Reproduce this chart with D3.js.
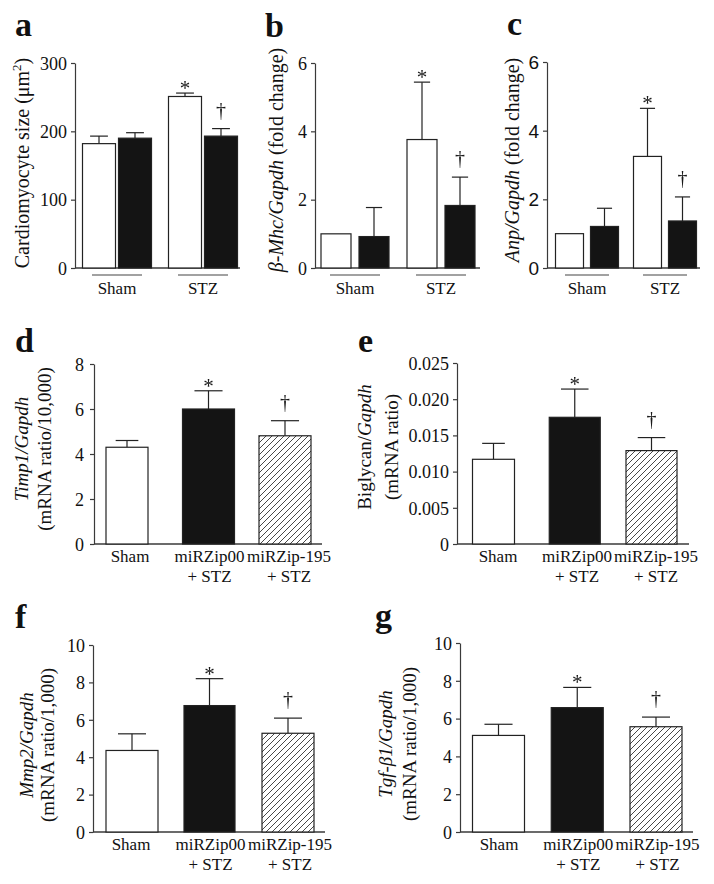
<!DOCTYPE html>
<html><head><meta charset="utf-8">
<script src="https://cdn.jsdelivr.net/npm/d3@7"></script>
<style>body{margin:0;background:#fff}svg{display:block}</style>
</head><body>
<svg id="chart" width="714" height="884"></svg>
<script>
// ---------- DATA ----------
const topGroups = ["Sham", "STZ"];
const topSeries = ["control", "treated"];

const aValues = [182, 190, 251, 193];
const aSEM    = [11, 8, 5, 11];
const aMarks  = ["", "", "*", "†"];
const aTicks  = [0, 100, 200, 300];
const aTickLabels = ["0", "100", "200", "300"];

const bValues = [1.0, 0.92, 3.76, 1.83];
const bSEM    = [0, 0.85, 1.68, 0.83];
const bMarks  = ["", "", "*", "†"];
const bTicks  = [0, 2, 4, 6];
const bTickLabels = ["0", "2", "4", "6"];

const cValues = [1.0, 1.21, 3.25, 1.37];
const cSEM    = [0, 0.53, 1.40, 0.70];
const cMarks  = ["", "", "*", "†"];
const cTicks  = [0, 2, 4, 6];
const cTickLabels = ["0", "2", "4", "6"];

const lowCategories = [["Sham"], ["miRZip00", "+ STZ"], ["miRZip-195", "+ STZ"]];
const lowMarks = ["", "*", "†"];

const dValues = [4.3, 6.0, 4.81];
const dSEM    = [0.3, 0.81, 0.67];
const dTicks  = [0, 2, 4, 6, 8];
const dTickLabels = ["0", "2", "4", "6", "8"];

const eValues = [0.0117, 0.0175, 0.0129];
const eSEM    = [0.0022, 0.0039, 0.0018];
const eTicks  = [0, 0.005, 0.010, 0.015, 0.020, 0.025];
const eTickLabels = ["0", "0.005", "0.010", "0.015", "0.020", "0.025"];

const fValues = [4.36, 6.76, 5.28];
const fSEM    = [0.89, 1.44, 0.81];
const fTicks  = [0, 2, 4, 6, 8, 10];
const fTickLabels = ["0", "2", "4", "6", "8", "10"];

const gValues = [5.11, 6.58, 5.57];
const gSEM    = [0.59, 1.07, 0.51];
const gTicks  = [0, 2, 4, 6, 8, 10];
const gTickLabels = ["0", "2", "4", "6", "8", "10"];

// ---------- STYLE ----------
const SERIF = "'Liberation Serif', 'Times New Roman', serif";
const SANS = "'Liberation Sans', Arial, sans-serif";
const INK = "#222";
const AXIS = "#3a3a3a";

const svg = d3.select("#chart");
const defs = svg.append("defs");
const pat = defs.append("pattern").attr("id", "hatch").attr("patternUnits", "userSpaceOnUse")
  .attr("width", 6).attr("height", 6);
pat.append("rect").attr("width", 6).attr("height", 6).attr("fill", "#fff");
pat.append("path").attr("d", "M-1,1 l2,-2 M0,6 l6,-6 M5,7 l2,-2")
  .attr("stroke", "#333").attr("stroke-width", 0.9);
const flt = defs.append("filter").attr("id", "gray").attr("x", "-50%").attr("y", "-50%")
  .attr("width", "200%").attr("height", "200%");
flt.append("feOffset").attr("dx", 0).attr("dy", 0);

const fills = { white: "#fff", black: "#141414", hatch: "url(#hatch)" };

function panelLetter(txt, x, y) {
  svg.append("text").attr("x", x).attr("y", y).text(txt)
    .attr("font-family", SERIF).attr("font-weight", "bold").attr("font-size", 34).attr("fill", "#111");
}

function yAxis(cfg) {
  const y = d3.scaleLinear().domain([0, cfg.yMax]).range([cfg.yBottom, cfg.yTop]);
  const ax = d3.axisLeft(y).tickValues(cfg.ticks)
    .tickFormat((d, i) => cfg.tickLabels[i]).tickSize(4).tickSizeOuter(0).tickPadding(cfg.tickPad || 4);
  const g = svg.append("g").attr("transform", `translate(${cfg.axisX},0)`).call(ax);
  g.select(".domain").attr("stroke", AXIS).attr("stroke-width", 1.2);
  g.selectAll(".tick line").attr("stroke", AXIS).attr("stroke-width", 1.2);
  g.selectAll(".tick text").attr("font-family", cfg.tickFont || SERIF).attr("font-size", cfg.tickSize || 18)
    .attr("fill", "#111").attr("dy", "0.35em");
  svg.append("line").attr("x1", cfg.axisX).attr("x2", cfg.xEnd)
    .attr("y1", cfg.yBottom).attr("y2", cfg.yBottom).attr("stroke", AXIS).attr("stroke-width", 1.3);
  return y;
}

function drawBar(y, x0, w, v, sem, fill, mark) {
  const mid = x0 + w / 2;
  if (sem > 0) {
    const top = y(v + sem);
    svg.append("line").attr("x1", mid).attr("x2", mid).attr("y1", y(v)).attr("y2", top)
      .attr("stroke", INK).attr("stroke-width", 1.2);
    svg.append("line").attr("x1", mid - w * 0.27).attr("x2", mid + w * 0.27).attr("y1", top).attr("y2", top)
      .attr("stroke", INK).attr("stroke-width", 1.2);
  }
  svg.append("rect").attr("x", x0).attr("y", y(v)).attr("width", w).attr("height", y(0) - y(v))
    .attr("fill", fills[fill]).attr("stroke", INK).attr("stroke-width", 1.2);
  if (mark) {
    const capY = y(v + sem);
    const ty = mark === "*" ? capY + 2 : capY - 12;
    svg.append("g").attr("filter", "url(#gray)")
      .append("text").attr("x", mid).attr("y", ty)
      .attr("text-anchor", "middle").attr("font-family", SERIF).attr("font-size", mark === "*" ? 21 : 20)
      .attr("fill", "#1a1a1a").text(mark);
  }
}

function yLabel(x, cy, parts, size) {
  const t = svg.append("text").attr("transform", `translate(${x},${cy}) rotate(-90)`)
    .attr("text-anchor", "middle").attr("font-family", SERIF).attr("font-size", size).attr("fill", "#111");
  parts.forEach(p => {
    const ts = t.append("tspan").text(p.t);
    if (p.i) ts.attr("font-style", "italic");
    if (p.sup) ts.attr("font-size", size * 0.65).attr("dy", -size * 0.38);
    if (p.down) ts.attr("dy", size * 0.38);
  });
}

// ---------- TOP ROW (grouped) ----------
function grouped(cfg) {
  const y = yAxis(cfg);
  const gx = d3.scalePoint().domain(topGroups).range(cfg.groupRange);
  const sx = d3.scalePoint().domain(topSeries).range([-cfg.offset, cfg.offset]);
  topGroups.forEach((gname, gi) => {
    topSeries.forEach((s, si) => {
      const k = gi * 2 + si;
      const cx = gx(gname) + sx(s);
      drawBar(y, cx - cfg.barW / 2, cfg.barW, cfg.values[k], cfg.sem[k],
        si === 0 ? "white" : "black", cfg.marks[k]);
    });
    const c = gx(gname);
    svg.append("line").attr("x1", c - cfg.lineHalf).attr("x2", c + cfg.lineHalf)
      .attr("y1", 275).attr("y2", 275).attr("stroke", "#444").attr("stroke-width", 1.2);
    svg.append("text").attr("x", c).attr("y", 294).attr("text-anchor", "middle")
      .attr("font-family", SERIF).attr("font-size", 17).attr("fill", "#111").text(gname);
  });
}

grouped({ axisX: 75, yTop: 63, yBottom: 268, xEnd: 240, yMax: 300, ticks: aTicks, tickLabels: aTickLabels,
  groupRange: [117, 203], offset: 18, barW: 33, lineHalf: 25, values: aValues, sem: aSEM, marks: aMarks });
grouped({ axisX: 315, yTop: 63, yBottom: 268, xEnd: 480, yMax: 6, ticks: bTicks, tickLabels: bTickLabels,
  groupRange: [355, 441], offset: 19, barW: 30, lineHalf: 25, values: bValues, sem: bSEM, marks: bMarks });
grouped({ axisX: 547, yTop: 62, yBottom: 268, xEnd: 700, yMax: 6, ticks: cTicks, tickLabels: cTickLabels,
  tickFont: SANS, tickSize: 19, groupRange: [587, 665], offset: 17.5, barW: 28, lineHalf: 22,
  values: cValues, sem: cSEM, marks: cMarks });

panelLetter("a", 15, 36);
panelLetter("b", 265, 37);
panelLetter("c", 507, 35);

yLabel(29, 163, [{ t: "Cardiomyocyte size (μm" }, { t: "2", sup: true }, { t: ")", down: true }], 20);
yLabel(283, 160, [{ t: "β-Mhc/Gapdh", i: true }, { t: " (fold change)" }], 20);
yLabel(519, 160, [{ t: "Anp/Gapdh", i: true }, { t: " (fold change)" }], 20);

// ---------- LOWER PANELS (three bars) ----------
const lowFills = ["white", "black", "hatch"];
function triple(cfg) {
  const y = yAxis(cfg);
  const keys = lowCategories.map(c => c.join(" "));
  const x = d3.scalePoint().domain(keys).range(cfg.range);       // bar left edges
  const xl = d3.scalePoint().domain(keys).range(cfg.labelRange); // label centres
  lowCategories.forEach((cat, i) => {
    const k = keys[i];
    drawBar(y, x(k), cfg.widths[i], cfg.values[i], cfg.sem[i], lowFills[i], lowMarks[i]);
    cat.forEach((line, li) => {
      svg.append("text").attr("x", xl(k)).attr("y", cfg.labelY + li * 20).attr("text-anchor", "middle")
        .attr("font-family", SERIF).attr("font-size", 17).attr("fill", "#111").text(line);
    });
  });
}

triple({ axisX: 94, yTop: 364, yBottom: 544, xEnd: 322, yMax: 8, ticks: dTicks, tickLabels: dTickLabels, tickPad: 6,
  range: [106, 259], labelRange: [130, 289], widths: [42, 52, 52], values: dValues, sem: dSEM, labelY: 562 });
triple({ axisX: 457, yTop: 363, yBottom: 544, xEnd: 689, yMax: 0.025, ticks: eTicks, tickLabels: eTickLabels,
  range: [472.5, 626], labelRange: [498, 656], widths: [42, 51, 51], values: eValues, sem: eSEM, labelY: 562 });
triple({ axisX: 93, yTop: 645, yBottom: 832, xEnd: 325, yMax: 10, ticks: fTicks, tickLabels: fTickLabels,
  range: [106, 262], labelRange: [131, 290], widths: [52, 51, 52], values: fValues, sem: fSEM, labelY: 850 });
triple({ axisX: 460, yTop: 643, yBottom: 832, xEnd: 693, yMax: 10, ticks: gTicks, tickLabels: gTickLabels,
  range: [472.5, 630], labelRange: [499, 657.5], widths: [52, 52, 52], values: gValues, sem: gSEM, labelY: 850 });

panelLetter("d", 15, 352);
panelLetter("e", 358, 352);
panelLetter("f", 15, 628);
panelLetter("g", 375, 627);

yLabel(28, 449, [{ t: "Timp1/Gapdh", i: true }], 19);
yLabel(51, 449, [{ t: "(mRNA ratio/10,000)" }], 19);
yLabel(371, 447, [{ t: "Biglycan/" }, { t: "Gapdh", i: true }], 19);
yLabel(398, 447, [{ t: "(mRNA ratio)" }], 19);
yLabel(33, 745, [{ t: "Mmp2/Gapdh", i: true }], 19);
yLabel(54, 745, [{ t: "(mRNA ratio/1,000)" }], 19);
yLabel(392, 744, [{ t: "Tgf-β1/Gapdh", i: true }], 19);
yLabel(416, 744, [{ t: "(mRNA ratio/1,000)" }], 19);
</script>
</body></html>
